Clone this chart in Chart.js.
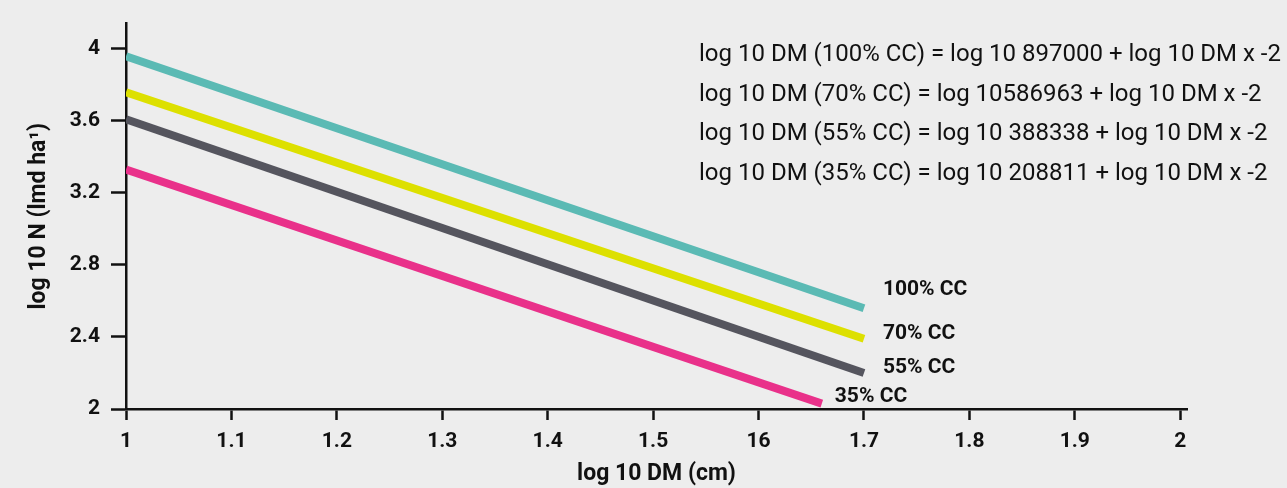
<!DOCTYPE html>
<html>
<head>
  <meta charset="utf-8">
  <script src="https://cdn.jsdelivr.net/npm/chart.js@4/dist/chart.umd.min.js"></script>
  <style>
    html, body { margin: 0; padding: 0; background: #ededed; }
  </style>
</head>
<body>
  <canvas id="myChart" width="1287" height="488"></canvas>
  <script>
    // one straight line per canopy cover class: [start, end] in log10 DM / log10 N
    const seriesNames = ['100% CC', '70% CC', '55% CC', '35% CC']
    const dm100 = [1, 1.7]
    const n100 = [3.96, 2.56]
    const dm70 = [1, 1.7]
    const n70 = [3.76, 2.39]
    const dm55 = [1, 1.7]
    const n55 = [3.61, 2.2]
    const dm35 = [1, 1.66]
    const n35 = [3.33, 2.03]

    const xTickValues = [1, 1.1, 1.2, 1.3, 1.4, 1.5, 1.6, 1.7, 1.8, 1.9, 2]
    const xTickLabels = ['1', '1.1', '1.2', '1.3', '1.4', '1.5', '16', '1.7', '1.8', '1.9', '2']
    const yTickValues = [2, 2.4, 2.8, 3.2, 3.6, 4]
    const yTickLabels = ['2', '2.4', '2.8', '3.2', '3.6', '4']

    const equations = [
      'log 10 DM (100% CC) = log 10 897000 + log 10 DM x -2',
      'log 10 DM (70% CC) = log 10586963 + log 10 DM x -2',
      'log 10 DM (55% CC) = log 10 388338 + log 10 DM x -2',
      'log 10 DM (35% CC) = log 10 208811 + log 10 DM x -2'
    ]

    const colors = ['#5bbab4', '#dde000', '#55555e', '#e9318a']
    const ink = '#111111'
    // label offsets from each line's end point, in pixels
    const labelOffsets = [[19, -18], [19, -5], [19, -5], [13, -7]]

    function points(xs, ys) {
      return xs.map((x, i) => ({ x: x, y: ys[i] }))
    }

    const textPlugin = {
      id: 'texts',
      afterDatasetsDraw(chart) {
        const ctx = chart.ctx
        ctx.save()
        ctx.fillStyle = ink
        ctx.font = 'bold 21px Roboto'
        ctx.textAlign = 'left'
        ctx.textBaseline = 'middle'
        seriesNames.forEach((name, i) => {
          const meta = chart.getDatasetMeta(i)
          const end = meta.data[meta.data.length - 1]
          ctx.fillText(name, end.x + labelOffsets[i][0], end.y + labelOffsets[i][1])
        })
        ctx.font = '24px Roboto'
        ctx.textBaseline = 'alphabetic'
        equations.forEach((t, i) => {
          ctx.fillText(t, 699, 61 + i * 39.5)
        })
        ctx.restore()
      }
    }

    const tickFont = { family: 'Roboto', size: 21, weight: 'bold' }
    const titleFont = { family: 'Roboto', size: 23, weight: 'bold' }

    new Chart(document.getElementById('myChart'), {
      type: 'line',
      data: {
        datasets: [
          { label: seriesNames[0], data: points(dm100, n100), borderColor: colors[0] },
          { label: seriesNames[1], data: points(dm70, n70), borderColor: colors[1] },
          { label: seriesNames[2], data: points(dm55, n55), borderColor: colors[2] },
          { label: seriesNames[3], data: points(dm35, n35), borderColor: colors[3] }
        ]
      },
      options: {
        responsive: false,
        animation: false,
        layout: { padding: { top: 15, right: 100, left: 0, bottom: 0 } },
        elements: {
          point: { radius: 0 },
          line: { borderWidth: 8, borderCapStyle: 'butt', tension: 0, fill: false }
        },
        plugins: { legend: { display: false }, tooltip: { enabled: false } },
        scales: {
          x: {
            type: 'linear',
            min: 1,
            max: 2.0064,
            afterBuildTicks: s => { s.ticks = xTickValues.map(v => ({ value: v })) },
            afterFit: s => { s.height = 79 },
            grid: { drawOnChartArea: false, tickLength: 11, tickWidth: 2.5, tickColor: ink },
            border: { display: true, color: ink, width: 2.5 },
            ticks: {
              color: ink, padding: 9, font: tickFont, maxRotation: 0, autoSkip: false,
              callback: (v, i) => xTickLabels[i]
            },
            title: { display: true, text: 'log 10 DM (cm)', color: ink, font: titleFont, padding: { top: 0, bottom: 0 } }
          },
          y: {
            min: 2,
            max: 4.141,
            afterBuildTicks: s => { s.ticks = yTickValues.map(v => ({ value: v })) },
            afterFit: s => { s.width = 126 },
            grid: { drawOnChartArea: false, tickLength: 15, tickWidth: 2.5, tickColor: ink },
            border: { display: true, color: ink, width: 2.5 },
            ticks: {
              color: ink, padding: 11, font: tickFont,
              callback: (v, i) => yTickLabels[i]
            },
            title: { display: true, text: 'log 10 N (lmd ha¹)', color: ink, font: titleFont, padding: { top: 25, bottom: 0 } }
          }
        }
      },
      plugins: [textPlugin]
    })
  </script>
</body>
</html>
